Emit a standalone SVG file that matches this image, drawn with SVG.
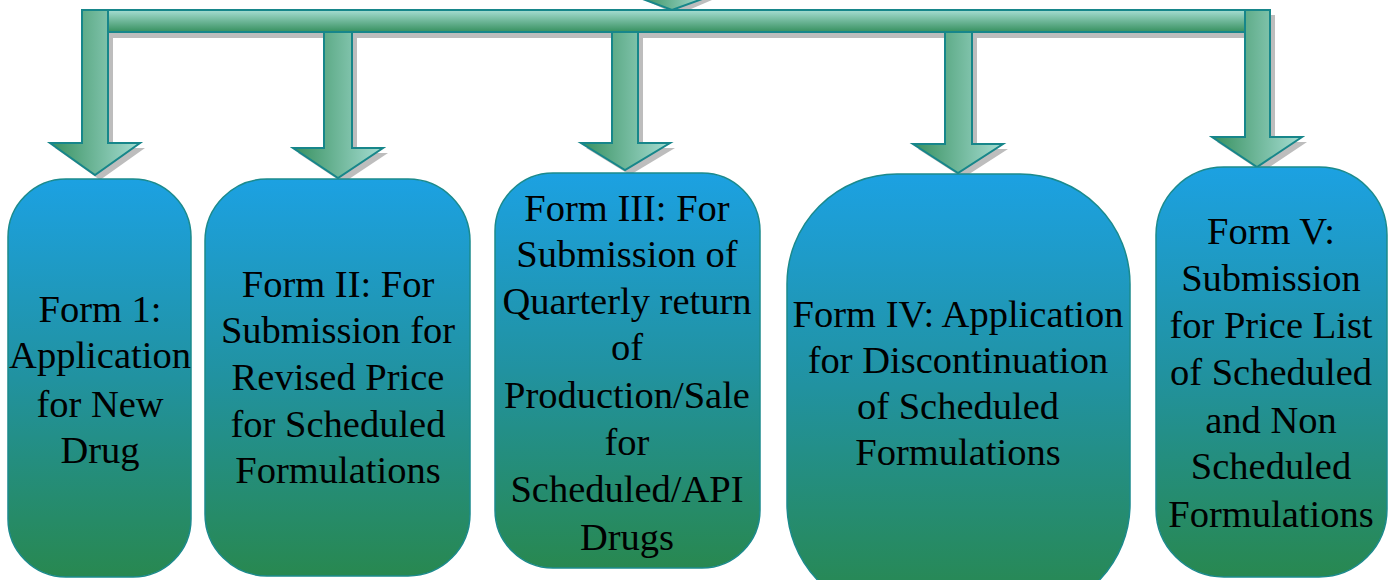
<svg xmlns="http://www.w3.org/2000/svg" width="1394" height="580" viewBox="0 0 1394 580">
<defs>
<linearGradient id="gArrow" x1="0" y1="0" x2="1" y2="0">
<stop offset="0" stop-color="#37905f"/>
<stop offset="1" stop-color="#a6ddd3"/>
</linearGradient>
<linearGradient id="gBar" x1="0" y1="0" x2="0" y2="1">
<stop offset="0" stop-color="#a6ddd3"/>
<stop offset="1" stop-color="#37905f"/>
</linearGradient>
<linearGradient id="gBox" x1="0" y1="0" x2="0" y2="1">
<stop offset="0" stop-color="#1ca1e2"/>
<stop offset="0.5" stop-color="#2192a0"/>
<stop offset="1" stop-color="#288850"/>
</linearGradient>
<linearGradient id="gBox4" x1="0" y1="174" x2="0" y2="600" gradientUnits="userSpaceOnUse">
<stop offset="0" stop-color="#1ca1e2"/>
<stop offset="0.5" stop-color="#2192a0"/>
<stop offset="1" stop-color="#288850"/>
</linearGradient>
</defs>
<style>
.sh{fill:#bdbdbd;}
.ar{fill:url(#gArrow);stroke:#17868a;stroke-width:2;stroke-linejoin:miter;}
.bar{fill:url(#gBar);stroke:#17868a;stroke-width:2;}
.box{fill:url(#gBox);stroke:#1b8a8c;stroke-width:1.5;}
.t{font-family:"Liberation Serif","Times New Roman",serif;font-size:38.5px;fill:#000;text-anchor:middle;}
</style>
<g id="connectors">
<polygon class="sh" points="645,0 712,0 677,15"/>
<rect class="sh" x="113" y="15" width="1137" height="23"/>
<polygon class="sh" points="87,15 113,15 113,148 145,148 100,180 55,148 87,148"/>
<polygon class="sh" points="329,37 357,37 357,153 388,153 343,183 298,153 329,153"/>
<polygon class="sh" points="617,37 643,37 643,148 675,148 630,175 586,148 617,148"/>
<polygon class="sh" points="950,37 977,37 977,149 1008,149 963,178 918,149 950,149"/>
<polygon class="sh" points="1250,15 1275,15 1275,142 1307,142 1262,172 1217,142 1250,142"/>
<polygon class="ar" points="640,-2 705,-2 672,10"/>
<rect class="bar" x="106" y="10" width="1141" height="22"/>
<polygon class="ar" points="82,10 108,10 108,143 140,143 95,175 50,143 82,143"/>
<polygon class="ar" points="324,32 352,32 352,148 383,148 338,178 293,148 324,148"/>
<polygon class="ar" points="612,32 638,32 638,143 670,143 625,170 581,143 612,143"/>
<polygon class="ar" points="945,32 972,32 972,144 1003,144 958,173 913,144 945,144"/>
<polygon class="ar" points="1245,10 1270,10 1270,137 1302,137 1257,167 1212,137 1245,137"/>
</g>
<g id="node1">
<rect class="box" x="8" y="179" width="183" height="398" rx="58" ry="58"/>
<text class="t" x="100" y="322">Form 1:</text>
<text class="t" x="100" y="368">Application</text>
<text class="t" x="100" y="417">for New</text>
<text class="t" x="100" y="463">Drug</text>
</g>
<g id="node2">
<rect class="box" x="205" y="179" width="265" height="397" rx="62" ry="62"/>
<text class="t" x="338" y="297">Form II: For</text>
<text class="t" x="338" y="343">Submission for</text>
<text class="t" x="338" y="390">Revised Price</text>
<text class="t" x="338" y="437">for Scheduled</text>
<text class="t" x="338" y="483">Formulations</text>
</g>
<g id="node3">
<rect class="box" x="495" y="173" width="265" height="395" rx="58" ry="58"/>
<text class="t" x="627" y="221">Form III: For</text>
<text class="t" x="627" y="267">Submission of</text>
<text class="t" x="627" y="314">Quarterly return</text>
<text class="t" x="627" y="360">of</text>
<text class="t" x="627" y="408">Production/Sale</text>
<text class="t" x="627" y="455">for</text>
<text class="t" x="627" y="502">Scheduled/API</text>
<text class="t" x="627" y="550">Drugs</text>
</g>
<g id="node4">
<rect class="box" style="fill:url(#gBox4)" x="787" y="174" width="343" height="440" rx="110" ry="110"/>
<text class="t" x="958" y="327">Form IV: Application</text>
<text class="t" x="958" y="373">for Discontinuation</text>
<text class="t" x="958" y="419">of Scheduled</text>
<text class="t" x="958" y="465">Formulations</text>
</g>
<g id="node5">
<rect class="box" x="1156" y="167" width="231" height="410" rx="68" ry="68"/>
<text class="t" x="1271" y="244">Form V:</text>
<text class="t" x="1271" y="291">Submission</text>
<text class="t" x="1271" y="338">for Price List</text>
<text class="t" x="1271" y="385">of Scheduled</text>
<text class="t" x="1271" y="433">and Non</text>
<text class="t" x="1271" y="479">Scheduled</text>
<text class="t" x="1271" y="527">Formulations</text>
</g>
</svg>
